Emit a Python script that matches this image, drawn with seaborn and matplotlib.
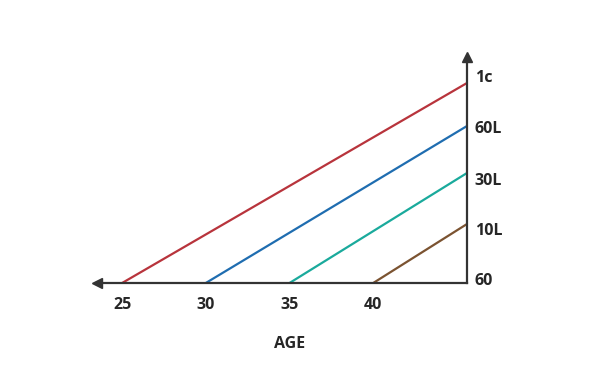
import numpy as np
import pandas as pd
from matplotlib import pyplot as plt
import seaborn as sns

# ages on the x axis (evenly spaced slots), right axis sits at age 60
ages = ["25", "30", "35", "40"]
start_slot = [0, 1, 2, 3]
end_slot = 4.12
# right-axis levels (height of line ends above baseline)
levels = ["1c", "60L", "30L", "10L"]
level_height = [200, 157, 110, 59]
colors = ["#b8343c", "#1f6db0", "#1aaa9c", "#7b5331"]


def plot(outf):
    sns.set_style("white")
    plt.rcParams['font.family'] = ['Open Sans', 'DejaVu Sans']

    rows = []
    for a, s, lv, h in zip(ages, start_slot, levels, level_height):
        rows.append({"x": s, "y": 0, "series": lv})
        rows.append({"x": end_slot, "y": h, "series": lv})
    df = pd.DataFrame(rows)

    fig = plt.figure(figsize=(6, 3.67), dpi=100)
    ax = fig.add_axes([97 / 600, 1 - 283 / 367, (467 - 97) / 600, (283 - 57) / 367])
    sns.lineplot(data=df, x="x", y="y", hue="series", hue_order=levels,
                 palette=dict(zip(levels, colors)), linewidth=1.6,
                 legend=False, ax=ax)

    ax.set_xlim(-0.3, end_slot)
    ax.set_ylim(0, 226)
    for sp in ["top", "left"]:
        ax.spines[sp].set_visible(False)
    for sp in ["bottom", "right"]:
        ax.spines[sp].set_color("#333333")
        ax.spines[sp].set_linewidth(1.6)

    # arrow heads
    ax.plot(0, 0, marker="<", color="#333333", markersize=7,
            transform=ax.transAxes, clip_on=False)
    ax.plot(1, 1, marker="^", color="#333333", markersize=7,
            transform=ax.transAxes, clip_on=False)

    fs = 11.5
    ax.set_xticks(start_slot)
    ax.set_xticklabels(ages, fontsize=fs, fontweight="bold")
    ax.tick_params(axis="x", length=0, pad=10)
    ax.set_yticks([])
    ax.set_xlabel("AGE", fontsize=fs, fontweight="bold")
    ax.xaxis.set_label_coords((290 - 97) / 370, -(336 - 283) / 226)
    ax.set_ylabel("")

    # right-axis labels
    label_y = [205, 154, 102, 52, 2]
    for t, yy in zip(levels + ["60"], label_y):
        ax.text(end_slot + 0.09, yy, t, fontsize=fs, fontweight="bold",
                ha="left", va="center", clip_on=False)

    plt.savefig(outf, dpi=100)


if __name__ == "__main__":
    plot("out.png")
